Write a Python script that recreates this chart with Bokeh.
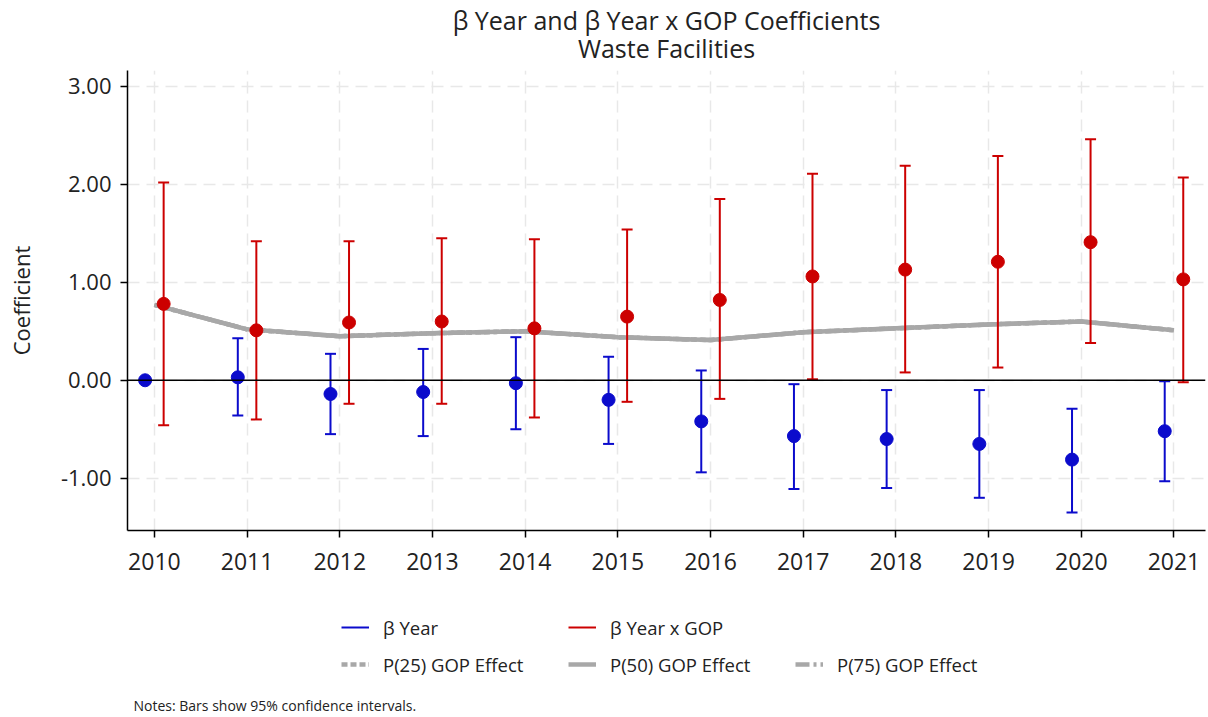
from bokeh.plotting import figure
from bokeh.layouts import column
from bokeh.models import (ColumnDataSource, Range1d, FixedTicker, NumeralTickFormatter,
                          Span, Legend, LegendItem, Label)
from bokeh.transform import dodge
from bokeh.embed import file_html
from bokeh.resources import INLINE

# ---------------- data ----------------
years = [2010, 2011, 2012, 2013, 2014, 2015, 2016, 2017, 2018, 2019, 2020, 2021]
b_year = [0.00, 0.03, -0.14, -0.12, -0.03, -0.20, -0.42, -0.57, -0.60, -0.65, -0.81, -0.52]
b_year_lo = [0.00, -0.36, -0.55, -0.57, -0.50, -0.65, -0.94, -1.11, -1.10, -1.20, -1.35, -1.03]
b_year_hi = [0.00, 0.43, 0.27, 0.32, 0.44, 0.24, 0.10, -0.04, -0.10, -0.10, -0.29, -0.01]
b_gop = [0.78, 0.51, 0.59, 0.60, 0.53, 0.65, 0.82, 1.06, 1.13, 1.21, 1.41, 1.03]
b_gop_lo = [-0.46, -0.40, -0.24, -0.24, -0.38, -0.22, -0.19, 0.01, 0.08, 0.13, 0.38, -0.02]
b_gop_hi = [2.02, 1.42, 1.42, 1.45, 1.44, 1.54, 1.85, 2.11, 2.19, 2.29, 2.46, 2.07]
p25_effect = [0.77, 0.52, 0.45, 0.48, 0.50, 0.44, 0.41, 0.49, 0.53, 0.57, 0.60, 0.51]
p50_effect = [0.77, 0.52, 0.45, 0.48, 0.50, 0.44, 0.41, 0.49, 0.53, 0.57, 0.60, 0.51]
p75_effect = [0.77, 0.52, 0.45, 0.48, 0.50, 0.44, 0.41, 0.49, 0.53, 0.57, 0.60, 0.51]
y_ticks = [-1, 0, 1, 2, 3]

title_main = "β Year and β Year x GOP Coefficients"
title_sub = "Waste Facilities"
y_label = "Coefficient"
notes = "Notes:  Bars show 95% confidence intervals."
legend_row1 = ["β Year", "β Year x GOP"]
legend_row2 = ["P(25) GOP Effect", "P(50) GOP Effect", "P(75) GOP Effect"]

# ---------------- style ----------------
FONT = "Open Sans"
TXT = "#222222"
BLUE = "#0b0bcc"
RED = "#cc0000"
GRAY = "#a8a8a8"
GRID = "#e8e8e8"
W = 1208
LEFT = 127   # frame left edge (frames of the stacked figures are aligned)
NAN = float("nan")


def bare(height):
    f = figure(width=W, height=height, output_backend="svg", toolbar_location=None,
               x_axis_type=None, y_axis_type=None, title=None,
               x_range=Range1d(0, 1), y_range=Range1d(0, 1),
               min_border_left=LEFT, min_border_right=3, min_border_top=0, min_border_bottom=0)
    f.outline_line_color = None
    f.xgrid.visible = False
    f.ygrid.visible = False
    return f


# ---------------- title strip ----------------
top = bare(70)
top.add_layout(Label(x=666 - LEFT, y=51, x_units="screen", y_units="screen", text=title_main,
                     text_align="center", text_baseline="middle", text_font=FONT,
                     text_font_size="25px", text_color=TXT))
top.add_layout(Label(x=666 - LEFT, y=23, x_units="screen", y_units="screen", text=title_sub,
                     text_align="center", text_baseline="middle", text_font=FONT,
                     text_font_size="25px", text_color=TXT))

# ---------------- main plot ----------------
src = ColumnDataSource(dict(
    year=years, by=b_year, by_lo=b_year_lo, by_hi=b_year_hi,
    bg=b_gop, bg_lo=b_gop_lo, bg_hi=b_gop_hi,
    p25=p25_effect, p50=p50_effect, p75=p75_effect,
))

p = figure(width=W, height=530, output_backend="svg", toolbar_location=None, title=None,
           x_range=Range1d(2009.71, 2021.34), y_range=Range1d(-1.534, 3.163),
           min_border_left=LEFT, min_border_right=3, min_border_top=0,
           min_border_bottom=70)
p.outline_line_color = None

p.xaxis.ticker = FixedTicker(ticks=years)
p.yaxis.ticker = FixedTicker(ticks=y_ticks)
p.yaxis.formatter = NumeralTickFormatter(format="0.00")
for ax in (p.xaxis, p.yaxis):
    ax.axis_line_color = "black"
    ax.axis_line_width = 1.5
    ax.major_tick_line_color = "black"
    ax.major_tick_line_width = 1.5
    ax.major_tick_in = 0
    ax.major_tick_out = 7
    ax.minor_tick_line_color = None
    ax.major_label_text_font = FONT
    ax.major_label_text_color = TXT
p.xaxis.major_label_text_font_size = "23px"
p.yaxis.major_label_text_font_size = "22px"
p.xaxis.major_label_standoff = 15
p.yaxis.major_label_standoff = 9
p.yaxis.axis_label = y_label
p.yaxis.axis_label_text_font = FONT
p.yaxis.axis_label_text_font_size = "22px"
p.yaxis.axis_label_text_font_style = "normal"
p.yaxis.axis_label_text_color = TXT
p.yaxis.axis_label_standoff = 22

for g in (p.xgrid, p.ygrid):
    g.grid_line_color = GRID
    g.grid_line_width = 1.5
    g.grid_line_dash = "12 7"

p.add_layout(Span(location=0, dimension="width", line_color="black", line_width=1.5))

# GOP effect lines
p.line("year", "p25", source=src, line_color=GRAY, line_width=4.5, line_dash="6 3")
p.line("year", "p50", source=src, line_color=GRAY, line_width=4.5)
p.line("year", "p75", source=src, line_color=GRAY, line_width=4.5, line_dash="14 4 3 4")

# error bars
xb = dodge("year", -0.1)
xr = dodge("year", 0.1)
p.segment(x0=xb, y0="by_lo", x1=xb, y1="by_hi", source=src, line_color=BLUE, line_width=2)
p.scatter(x=xb, y="by_lo", source=src, marker="dash", size=11, line_color=BLUE, line_width=2)
p.scatter(x=xb, y="by_hi", source=src, marker="dash", size=11, line_color=BLUE, line_width=2)
p.segment(x0=xr, y0="bg_lo", x1=xr, y1="bg_hi", source=src, line_color=RED, line_width=2)
p.scatter(x=xr, y="bg_lo", source=src, marker="dash", size=11, line_color=RED, line_width=2)
p.scatter(x=xr, y="bg_hi", source=src, marker="dash", size=11, line_color=RED, line_width=2)

# points
p.scatter(x=xb, y="by", source=src, size=13, fill_color=BLUE, line_color=BLUE)
p.scatter(x=xr, y="bg", source=src, size=13, fill_color=RED, line_color=RED)

# ---------------- legend + notes strip ----------------
bot = bare(117)
# legend-only renderers (one undrawable NaN row so that the legend can draw their glyphs)
dummy = ColumnDataSource(dict(x0=[NAN], y0=[NAN], x1=[NAN], y1=[NAN], x=[NAN], y=[NAN]))
r_b = bot.segment("x0", "y0", "x1", "y1", source=dummy, line_color=BLUE, line_width=2)
r_r = bot.segment("x0", "y0", "x1", "y1", source=dummy, line_color=RED, line_width=2)
r_25 = bot.line("x", "y", source=dummy, line_color=GRAY, line_width=4.5, line_dash="6 3")
r_50 = bot.line("x", "y", source=dummy, line_color=GRAY, line_width=4.5)
r_75 = bot.line("x", "y", source=dummy, line_color=GRAY, line_width=4.5, line_dash="14 4 3 4")

common = dict(orientation="horizontal", glyph_width=28, glyph_height=26, label_height=26,
              label_standoff=14, label_width=170, spacing=15, padding=0, margin=0,
              border_line_color=None, background_fill_alpha=0, label_text_font=FONT,
              label_text_font_size="18.5px", label_text_color=TXT)
leg1 = Legend(items=[LegendItem(label=legend_row1[0], renderers=[r_b]),
                     LegendItem(label=legend_row1[1], renderers=[r_r])],
              location=(341 - LEFT, 77), **common)
leg2 = Legend(items=[LegendItem(label=legend_row2[0], renderers=[r_25]),
                     LegendItem(label=legend_row2[1], renderers=[r_50]),
                     LegendItem(label=legend_row2[2], renderers=[r_75])],
              location=(341 - LEFT, 40), **common)
bot.add_layout(leg1)
bot.add_layout(leg2)
bot.add_layout(Label(x=133 - LEFT, y=12, x_units="screen", y_units="screen", text=notes,
                     text_align="left", text_baseline="middle", text_font=FONT,
                     text_font_size="14px", text_color=TXT))

layout = column(top, p, bot, spacing=0)
open("out.html", "w").write(file_html(layout, INLINE))
